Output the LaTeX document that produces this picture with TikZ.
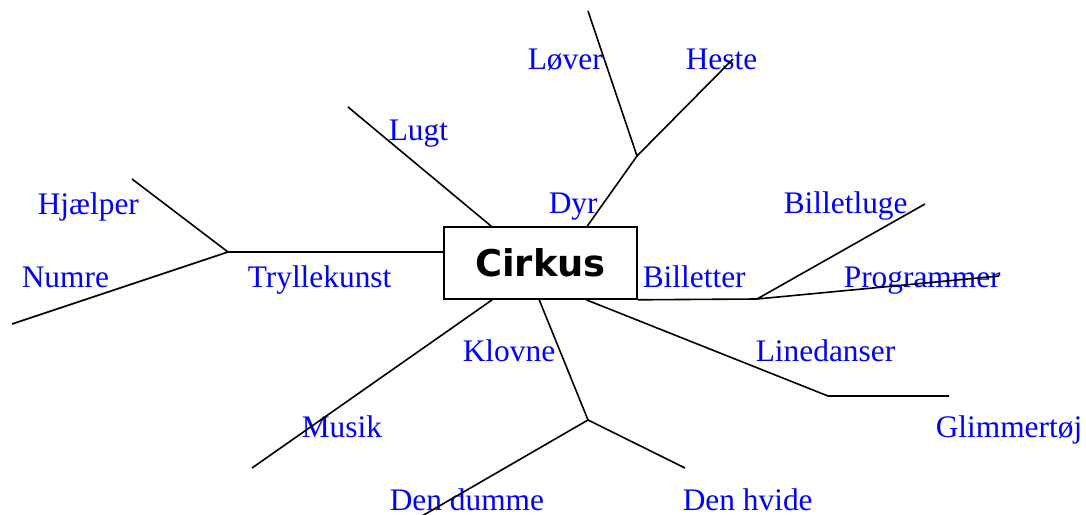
\documentclass[tikz,border=0pt]{standalone}
\usepackage{fontspec}
\setmainfont{Liberation Serif}
\newfontfamily\boxfont{DejaVu Sans}
\usetikzlibrary{positioning}
\definecolor{labelblue}{HTML}{0000FF}

\begin{document}
\begin{tikzpicture}[x=1bp,y=-1bp,line width=1.6bp,
    leaf/.style={labelblue,anchor=base west,inner sep=0pt,font=\fontsize{31.5}{36}\selectfont}]
  \useasboundingbox (0,0) rectangle (1086,515);
  % labels
  \node[leaf] (l-hjaelper) at (37,215) {Hjælper};
  \node[leaf] (l-numre) at (21,288) {Numre};
  \node[leaf] (l-tryl) at (247,288) {Tryllekunst};
  \node[leaf] (l-lugt) at (388,141) {Lugt};
  \node[leaf] (l-lover) at (527,70) {Løver};
  \node[leaf] (l-heste) at (685,70) {Heste};
  \node[leaf] (l-dyr) at (548,214) {Dyr};
  \node[leaf] (l-bill) at (642,288) {Billetter};
  \node[leaf] (l-luge) at (783,214) {Billetluge};
  \node[leaf] (l-prog) at (843,288) {Programmer};
  \node[leaf] (l-line) at (755,362) {Linedanser};
  \node[leaf] (l-glim) at (935,437) {Glimmertøj};
  \node[leaf] (l-klov) at (462,362) {Klovne};
  \node[leaf] (l-musik) at (301,437) {Musik};
  \node[leaf] (l-dum) at (389,510) {Den dumme};
  \node[leaf] (l-hvid) at (682,510) {Den hvide};
  % centre
  \node[draw,minimum width=193bp,minimum height=72bp,inner sep=0pt,
    font=\boxfont\bfseries\fontsize{37}{40}\selectfont] (cirkus) at (540.5,263) {Cirkus};
  % branch points and ends
  \coordinate (tryl) at (228,252);
  \coordinate (dyr) at (637,156);
  \coordinate (bill) at (757,299);
  \coordinate (line) at (828,396);
  \coordinate (klov) at (588,420);
  \coordinate (e-hjaelper) at (132,179);
  \coordinate (e-numre) at (12,324);
  \coordinate (e-lugt) at (348,107);
  \coordinate (e-lover) at (588,11);
  \coordinate (e-heste) at (733,59);
  \coordinate (e-luge) at (925,204);
  \coordinate (e-prog) at (999,276);
  \coordinate (e-glim) at (949,396);
  \coordinate (e-dum) at (422,516);
  \coordinate (e-hvid) at (685,468);
  \coordinate (e-musik) at (252,468);
  % branches
  \draw (cirkus.west |- tryl) -- (tryl);
  \draw (e-hjaelper) -- (tryl) -- (e-numre);
  \draw ([xshift=48bp]cirkus.north west) -- (e-lugt);
  \draw ([xshift=144bp]cirkus.north west) -- (dyr);
  \draw (e-lover) -- (dyr) -- (e-heste);
  \draw (cirkus.south east) -- (bill);
  \draw (e-luge) -- (bill) -- (e-prog);
  \draw ([xshift=143bp]cirkus.south west) -- (line) -- (e-glim);
  \draw ([xshift=96bp]cirkus.south west) -- (klov);
  \draw (e-dum) -- (klov) -- (e-hvid);
  \draw ([xshift=49bp]cirkus.south west) -- (e-musik);
\end{tikzpicture}
\end{document}
